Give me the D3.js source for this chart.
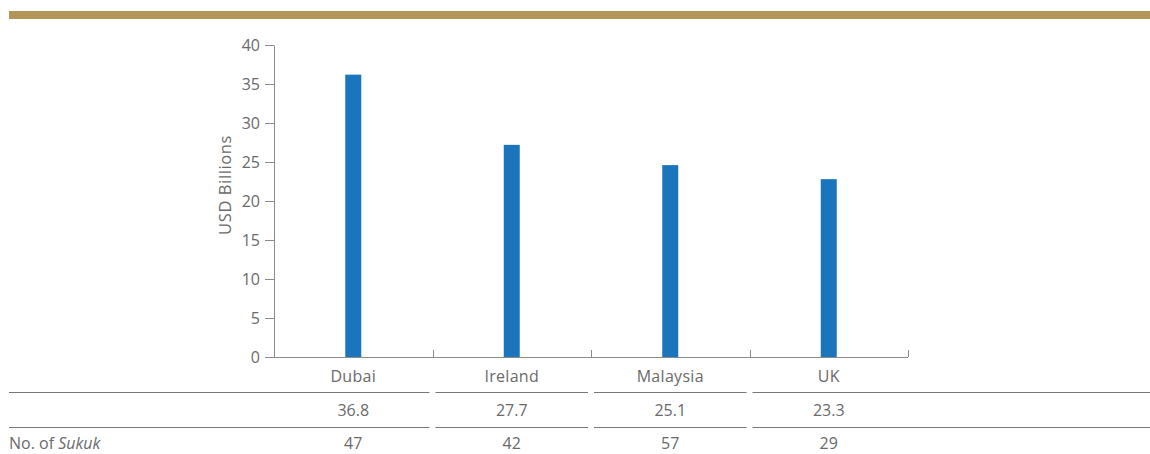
<!DOCTYPE html>
<html><head><meta charset="utf-8">
<script src="https://cdn.jsdelivr.net/npm/d3@7"></script>
<style>
html,body{margin:0;padding:0;background:#fff;}
svg text{font-family:"Open Sans",Lato,sans-serif;fill:#6a6a6a;}
</style></head>
<body>
<svg id="chart" width="1150" height="454"></svg>
<script>
const categories = ["Dubai", "Ireland", "Malaysia", "UK"];
const barValues = [36.2, 27.2, 24.6, 22.8];
const tableValues = ["36.8", "27.7", "25.1", "23.3"];
const sukukCounts = ["47", "42", "57", "29"];
const yTicks = [0, 5, 10, 15, 20, 25, 30, 35, 40];
const yTitle = "USD Billions";
const rowLabel = "No. of ";
const rowLabelItalic = "Sukuk";

(function () {
const svg = d3.select("#chart");
const pl = 274, pr = 908, pt = 45, pb = 357;
const y = d3.scaleLinear().domain([0, 40]).range([pb, pt]);
const x = d3.scaleBand().domain(categories).range([pl, pr]).padding(0);
const barW = 16;
const axisCol = "#8a8a8a";
const fs = 16;

svg.append("rect").attr("x", 9).attr("y", 11).attr("width", 1141).attr("height", 8).attr("fill", "#b39559");

const yAxis = svg.append("g").attr("transform", `translate(${pl},0)`)
  .call(d3.axisLeft(y).tickValues(yTicks).tickSize(9).tickPadding(5).tickSizeOuter(0));
yAxis.select(".domain").attr("stroke", axisCol);
yAxis.selectAll(".tick line").attr("stroke", axisCol);
yAxis.selectAll(".tick text").attr("font-size", fs).style("font-family", "'Open Sans', sans-serif").attr("fill", "#6a6a6a");

svg.append("text").attr("transform", `translate(231,${(pt + pb) / 2 - 16}) rotate(-90)`)
  .attr("text-anchor", "middle").attr("font-size", 16.5).attr("letter-spacing", 0.6).text(yTitle);

svg.append("line").attr("x1", pl).attr("x2", pr).attr("y1", pb + 0.5).attr("y2", pb + 0.5).attr("stroke", axisCol);
const bounds = categories.map(c => x(c) + x.step());
svg.selectAll(".xb").data(bounds).enter().append("line")
  .attr("x1", d => Math.round(d) + 0.5).attr("x2", d => Math.round(d) + 0.5)
  .attr("y1", pb - 7).attr("y2", pb).attr("stroke", axisCol);

svg.selectAll(".bar").data(categories).enter().append("rect")
  .attr("x", (c) => x(c) + x.step() / 2 - barW / 2)
  .attr("width", barW)
  .attr("y", (c, i) => y(barValues[i]))
  .attr("height", (c, i) => y(0) - y(barValues[i]))
  .attr("fill", "#1b75bc");

svg.selectAll(".cat").data(categories).enter().append("text")
  .attr("x", c => x(c) + x.step() / 2).attr("y", 382)
  .attr("text-anchor", "middle").attr("font-size", fs).attr("letter-spacing", 0.3).text(c => c);

const gap = 3;
const segs = categories.map((c, i) => [i === 0 ? 9 : x(c) + gap, i === categories.length - 1 ? 1150 : x(c) + x.step() - gap]);
[392, 427].forEach(yy => {
  svg.selectAll(null).data(segs).enter().append("line")
    .attr("x1", d => d[0]).attr("x2", d => d[1])
    .attr("y1", yy + 0.5).attr("y2", yy + 0.5).attr("stroke", "#777");
});

svg.selectAll(".tv").data(categories).enter().append("text")
  .attr("x", c => x(c) + x.step() / 2).attr("y", 416)
  .attr("text-anchor", "middle").attr("font-size", fs).text((c, i) => tableValues[i]);
svg.selectAll(".sc").data(categories).enter().append("text")
  .attr("x", c => x(c) + x.step() / 2).attr("y", 449)
  .attr("text-anchor", "middle").attr("font-size", fs).text((c, i) => sukukCounts[i]);

const rl = svg.append("text").attr("x", 9).attr("y", 449).attr("font-size", fs);
rl.append("tspan").text(rowLabel);
rl.append("tspan").attr("font-style", "italic").text(rowLabelItalic);
})();
</script>
</body></html>
